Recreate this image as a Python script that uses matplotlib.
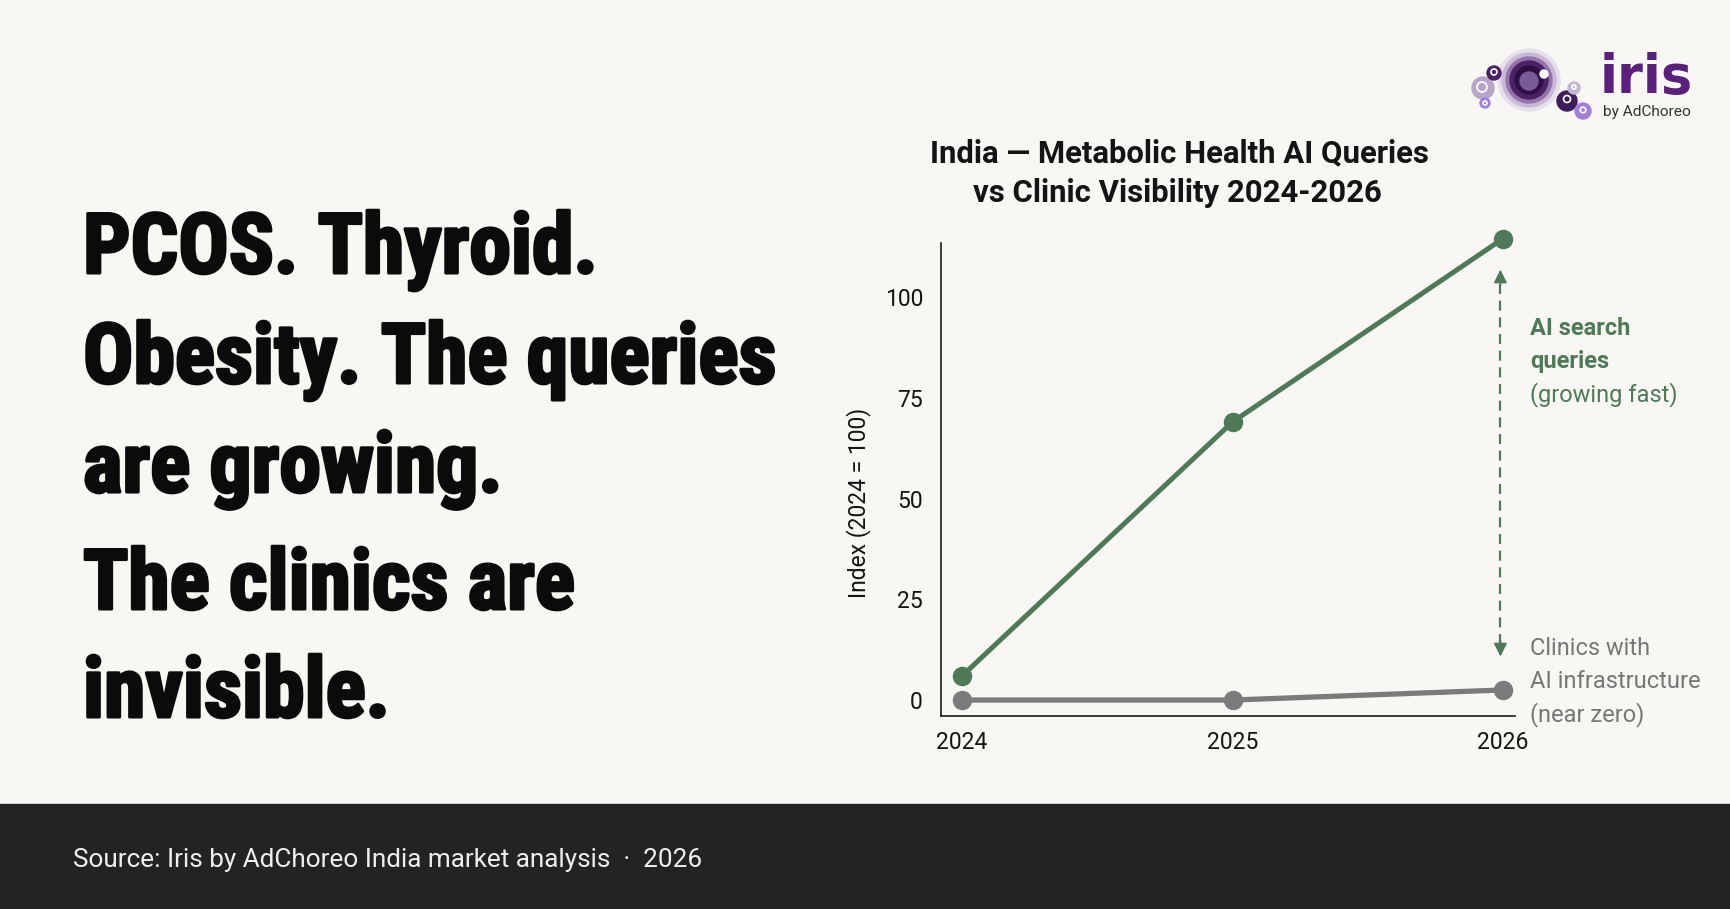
import matplotlib
matplotlib.use("Agg")
import matplotlib.pyplot as plt
import matplotlib.patheffects as pe
from matplotlib import font_manager as fm
from matplotlib.patches import Circle, Rectangle

# ---------------- data ----------------
years = [2024, 2025, 2026]
ai_queries = [6, 69, 114.5]
clinics_ai = [0, 0, 2.5]
y_ticks = [0, 25, 50, 75, 100]
arrow_top = 106.8
arrow_bottom = 10.8

headline_lines = ["PCOS. Thyroid.", "Obesity. The queries", "are growing.",
                  "The clinics are", "invisible."]
title_lines = ["India \u2014 Metabolic Health AI Queries",
               "vs Clinic Visibility 2024-2026"]
ylabel_text = "Index (2024 = 100)"
ai_label = ["AI search", "queries", "(growing fast)"]
clinic_label = ["Clinics with", "AI infrastructure", "(near zero)"]
footer_text = "Source: Iris by AdChoreo India market analysis  \u00b7  2026"

# ---------------- style ----------------
W, H = 1731, 909
BG = "#f8f7f3"
GREEN = "#4e7a58"
GRAY = "#7b7b7b"
GRAY_TXT = "#777777"
INK = "#141414"

names = {f.name for f in fm.fontManager.ttflist}


def pick(cands, default="DejaVu Sans"):
    for c in cands:
        if c in names:
            return c
    return default


NARROW = pick(["Liberation Sans Narrow", "Roboto Condensed", "Open Sans Condensed", "DejaVu Sans"])
UI = pick(["Roboto", "Inter", "Lato", "DejaVu Sans"])

fig = plt.figure(figsize=(W / 100, H / 100), dpi=100)
fig.patch.set_facecolor(BG)
renderer = fig.canvas.get_renderer()

ov = fig.add_axes([0, 0, 1, 1], zorder=0)
ov.set_xlim(0, W)
ov.set_ylim(H, 0)
ov.axis("off")
ov.patch.set_alpha(0)


def fit(t, target):
    t.set_fontsize(20)
    w = t.get_window_extent(renderer).width
    t.set_fontsize(20 * target / w)
    return t.get_fontsize()


# footer band
ov.add_patch(Rectangle((0, 804), W, H - 804, color="#232323", zorder=0))
ft = ov.text(73, 860, footer_text, color="#eeeeee", family=UI, ha="left", va="center")
fit(ft, 628)

# headline
baselines = [273, 383, 492, 609, 717]
hl = []
for line, yb in zip(headline_lines, baselines):
    hl.append(ov.text(83, yb, line, family=NARROW, fontweight="heavy", fontstretch="condensed",
                      color="#0b0b0b", ha="left", va="baseline",
                      path_effects=[pe.withStroke(linewidth=2.2, foreground="#0b0b0b")]))
size = fit(hl[1], 690)
for t in hl:
    t.set_fontsize(size)

# title
t1 = ov.text(1179, 162, title_lines[0], family=UI, fontweight="bold", color=INK,
             ha="center", va="baseline")
ts = fit(t1, 499)
ov.text(1177, 202, title_lines[1], family=UI, fontweight="bold", color=INK,
        ha="center", va="baseline", fontsize=ts)

# logo
logo = [
    (1529, 80, 31, "#e6dfec"), (1529, 80, 27, "#c9b9d7"), (1529, 80, 23, "#9274ab"),
    (1529, 80, 19, "#4b2266"), (1529, 80, 14, "#2f1044"), (1529, 81, 9, "#7b5b96"),
    (1544, 74, 4, "#ffffff"),
    (1483, 88, 11, "#b7a6c6"), (1494, 73, 7, "#4b2266"), (1485, 103, 5, "#a07fe0"),
    (1567, 101, 10, "#3f1d5a"), (1583, 111, 8, "#a27fd8"), (1574, 88, 6, "#c4b6d0"),
]
for cx, cy, r, c in logo:
    ov.add_patch(Circle((cx, cy), r, color=c, zorder=3))
for cx, cy, r in [(1482, 87, 5), (1494, 72, 3), (1485, 103, 2)]:
    ov.add_patch(Circle((cx, cy), r, fill=False, ec="white", lw=1.2, zorder=4))
for cx, cy, r in [(1567, 99, 3.5), (1583, 110, 2.8), (1574, 87, 2)]:
    ov.add_patch(Circle((cx, cy), r, fill=False, ec="white", lw=1.2, zorder=4))
lt = ov.text(1600, 93, "iris", family="DejaVu Sans", fontweight="bold", color="#5b1f7e",
             ha="left", va="baseline")
fit(lt, 94)
bt = ov.text(1603, 112, "by AdChoreo", family=UI, color="#333333", ha="left", va="center")
fit(bt, 88)

# ---------------- chart ----------------
ax = fig.add_axes([941 / W, (H - 716) / H, (1515 - 941) / W, (716 - 243) / H], zorder=2)
ax.patch.set_alpha(0)
ax.plot(years, clinics_ai, color=GRAY, lw=3.8, marker="o", ms=13, clip_on=False, zorder=3)
ax.plot(years, ai_queries, color=GREEN, lw=3.6, marker="o", ms=13, clip_on=False, zorder=4)
ax.set_xlim(2023.922, 2026.044)
ax.set_ylim(-3.96, 113.4)
ax.set_xticks(years)
ax.set_yticks(y_ticks)
for s in ["top", "right"]:
    ax.spines[s].set_visible(False)
for s in ["left", "bottom"]:
    ax.spines[s].set_color("#1a1a1a")
    ax.spines[s].set_linewidth(1.2)
ax.tick_params(axis="both", length=0, labelsize=16.5, labelcolor=INK)
ax.tick_params(axis="x", pad=11)
ax.tick_params(axis="y", pad=13)
for lab in ax.get_xticklabels() + ax.get_yticklabels():
    lab.set_family(UI)

yl = ax.text(-0.143, 0.45, ylabel_text, transform=ax.transAxes, family=UI, color=INK,
             ha="center", va="center")
fit(yl, 190)
yl.set_rotation(90)

# dashed double arrow
ax.plot([2025.99, 2025.99], [arrow_bottom + 3, arrow_top - 3], color=GREEN, lw=1.6,
        ls=(0, (4.5, 3)), zorder=2)
for tip, tail in [(arrow_top, arrow_top - 4), (arrow_bottom, arrow_bottom + 4)]:
    ax.annotate("", xy=(2025.99, tip), xytext=(2025.99, tail),
                arrowprops=dict(arrowstyle="-|>", color=GREEN, lw=1.2, mutation_scale=20,
                                shrinkA=0, shrinkB=0))

# side labels
ref = ax.text(2026.1, 4.7, clinic_label[1], family=UI, color=GRAY_TXT, ha="left",
              va="center", clip_on=False)
fs = fit(ref, 170)
ax.text(2026.1, 12.9, clinic_label[0], family=UI, color=GRAY_TXT, ha="left", va="center",
        fontsize=fs, clip_on=False)
ax.text(2026.1, -3.5, clinic_label[2], family=UI, color=GRAY_TXT, ha="left", va="center",
        fontsize=fs, clip_on=False)
ax.text(2026.1, 92.1, ai_label[0], family=UI, fontweight="bold", color=GREEN, ha="left",
        va="center", fontsize=fs, clip_on=False)
ax.text(2026.1, 83.9, ai_label[1], family=UI, fontweight="bold", color=GREEN, ha="left",
        va="center", fontsize=fs, clip_on=False)
ax.text(2026.1, 75.7, ai_label[2], family=UI, color=GREEN, ha="left", va="center",
        fontsize=fs, clip_on=False)

fig.savefig("out.png", dpi=100, facecolor=BG)
